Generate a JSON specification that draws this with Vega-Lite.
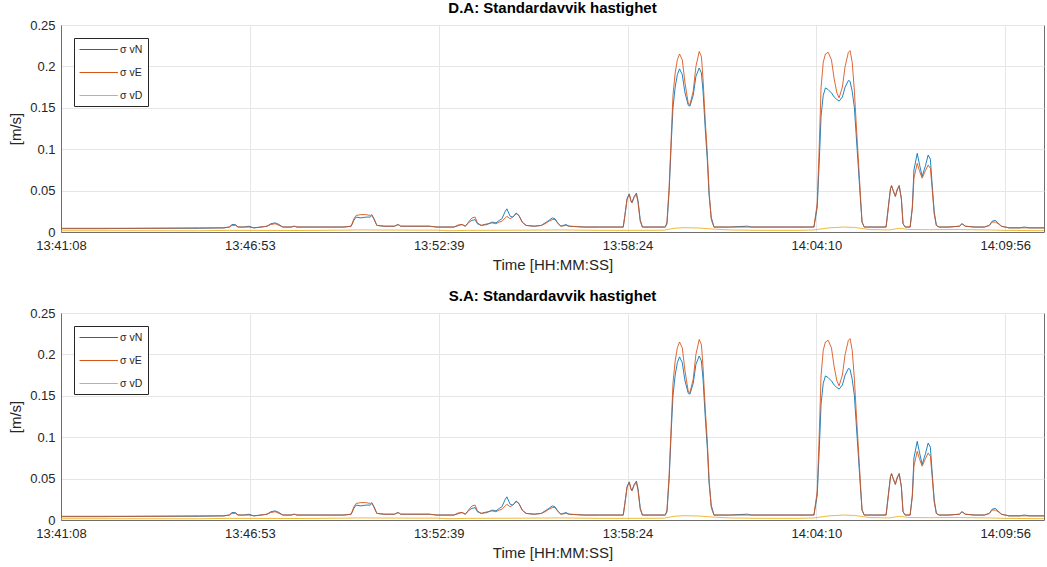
{
  "$schema": "https://vega.github.io/schema/vega-lite/v6.json",
  "background": "white",
  "padding": {"left": 8, "top": 0, "right": 2, "bottom": 2},
  "datasets": {
    "sigma": [
      {"t": 0, "N": 0.004, "E": 0.0045},
      {"t": 70, "N": 0.004, "E": 0.0045},
      {"t": 161, "N": 0.0045, "E": 0.0045},
      {"t": 253, "N": 0.0045, "E": 0.005},
      {"t": 298, "N": 0.005, "E": 0.005},
      {"t": 308, "N": 0.006, "E": 0.006},
      {"t": 313, "N": 0.009, "E": 0.008},
      {"t": 319, "N": 0.009, "E": 0.008},
      {"t": 324, "N": 0.006, "E": 0.006},
      {"t": 335, "N": 0.006, "E": 0.006},
      {"t": 344, "N": 0.007, "E": 0.006},
      {"t": 353, "N": 0.005, "E": 0.005},
      {"t": 366, "N": 0.006, "E": 0.006},
      {"t": 377, "N": 0.007, "E": 0.007},
      {"t": 384, "N": 0.010, "E": 0.009},
      {"t": 392, "N": 0.011, "E": 0.010},
      {"t": 399, "N": 0.009, "E": 0.008},
      {"t": 406, "N": 0.006, "E": 0.006},
      {"t": 421, "N": 0.006, "E": 0.006},
      {"t": 427, "N": 0.007, "E": 0.007},
      {"t": 432, "N": 0.006, "E": 0.006},
      {"t": 454, "N": 0.006, "E": 0.006},
      {"t": 491, "N": 0.006, "E": 0.006},
      {"t": 518, "N": 0.006, "E": 0.006},
      {"t": 531, "N": 0.007, "E": 0.007},
      {"t": 536, "N": 0.014, "E": 0.016},
      {"t": 540, "N": 0.018, "E": 0.020},
      {"t": 549, "N": 0.017, "E": 0.021},
      {"t": 558, "N": 0.018, "E": 0.021},
      {"t": 566, "N": 0.018, "E": 0.020},
      {"t": 569, "N": 0.020, "E": 0.021},
      {"t": 573, "N": 0.016, "E": 0.015},
      {"t": 578, "N": 0.008, "E": 0.008},
      {"t": 591, "N": 0.007, "E": 0.007},
      {"t": 610, "N": 0.007, "E": 0.007},
      {"t": 617, "N": 0.009, "E": 0.009},
      {"t": 622, "N": 0.007, "E": 0.007},
      {"t": 646, "N": 0.007, "E": 0.007},
      {"t": 674, "N": 0.007, "E": 0.007},
      {"t": 688, "N": 0.006, "E": 0.006},
      {"t": 701, "N": 0.006, "E": 0.006},
      {"t": 719, "N": 0.006, "E": 0.006},
      {"t": 729, "N": 0.008, "E": 0.009},
      {"t": 734, "N": 0.009, "E": 0.009},
      {"t": 740, "N": 0.007, "E": 0.007},
      {"t": 747, "N": 0.012, "E": 0.013},
      {"t": 752, "N": 0.014, "E": 0.017},
      {"t": 758, "N": 0.015, "E": 0.018},
      {"t": 762, "N": 0.010, "E": 0.011},
      {"t": 769, "N": 0.008, "E": 0.008},
      {"t": 780, "N": 0.009, "E": 0.010},
      {"t": 789, "N": 0.012, "E": 0.011},
      {"t": 796, "N": 0.011, "E": 0.010},
      {"t": 802, "N": 0.014, "E": 0.012},
      {"t": 807, "N": 0.016, "E": 0.013},
      {"t": 813, "N": 0.025, "E": 0.017},
      {"t": 816, "N": 0.028, "E": 0.019},
      {"t": 822, "N": 0.019, "E": 0.016},
      {"t": 827, "N": 0.018, "E": 0.018},
      {"t": 833, "N": 0.023, "E": 0.022},
      {"t": 838, "N": 0.020, "E": 0.020},
      {"t": 844, "N": 0.012, "E": 0.012},
      {"t": 851, "N": 0.008, "E": 0.008},
      {"t": 866, "N": 0.007, "E": 0.007},
      {"t": 879, "N": 0.008, "E": 0.008},
      {"t": 886, "N": 0.011, "E": 0.010},
      {"t": 893, "N": 0.014, "E": 0.013},
      {"t": 899, "N": 0.017, "E": 0.015},
      {"t": 904, "N": 0.016, "E": 0.015},
      {"t": 910, "N": 0.010, "E": 0.010},
      {"t": 915, "N": 0.007, "E": 0.007},
      {"t": 924, "N": 0.009, "E": 0.008},
      {"t": 930, "N": 0.007, "E": 0.007},
      {"t": 957, "N": 0.006, "E": 0.006},
      {"t": 985, "N": 0.006, "E": 0.006},
      {"t": 1012, "N": 0.006, "E": 0.006},
      {"t": 1029, "N": 0.006, "E": 0.006},
      {"t": 1032, "N": 0.020, "E": 0.020},
      {"t": 1036, "N": 0.040, "E": 0.040},
      {"t": 1040, "N": 0.046, "E": 0.046},
      {"t": 1043, "N": 0.038, "E": 0.037},
      {"t": 1045, "N": 0.036, "E": 0.035},
      {"t": 1049, "N": 0.043, "E": 0.042},
      {"t": 1053, "N": 0.047, "E": 0.045},
      {"t": 1056, "N": 0.038, "E": 0.036},
      {"t": 1060, "N": 0.015, "E": 0.013},
      {"t": 1064, "N": 0.006, "E": 0.006},
      {"t": 1085, "N": 0.006, "E": 0.006},
      {"t": 1106, "N": 0.006, "E": 0.006},
      {"t": 1109, "N": 0.010, "E": 0.012},
      {"t": 1113, "N": 0.050, "E": 0.055},
      {"t": 1117, "N": 0.110, "E": 0.118},
      {"t": 1120, "N": 0.150, "E": 0.165},
      {"t": 1124, "N": 0.175, "E": 0.192},
      {"t": 1128, "N": 0.190, "E": 0.208},
      {"t": 1132, "N": 0.197, "E": 0.215},
      {"t": 1137, "N": 0.190, "E": 0.208},
      {"t": 1142, "N": 0.168, "E": 0.180},
      {"t": 1148, "N": 0.153, "E": 0.155},
      {"t": 1151, "N": 0.152, "E": 0.154},
      {"t": 1157, "N": 0.165, "E": 0.170},
      {"t": 1162, "N": 0.188, "E": 0.200},
      {"t": 1168, "N": 0.198, "E": 0.218},
      {"t": 1172, "N": 0.192, "E": 0.212},
      {"t": 1175, "N": 0.170, "E": 0.185},
      {"t": 1179, "N": 0.125, "E": 0.135},
      {"t": 1183, "N": 0.085, "E": 0.093},
      {"t": 1186, "N": 0.045, "E": 0.050},
      {"t": 1190, "N": 0.018, "E": 0.015},
      {"t": 1195, "N": 0.006, "E": 0.006},
      {"t": 1223, "N": 0.006, "E": 0.006},
      {"t": 1256, "N": 0.007, "E": 0.006},
      {"t": 1263, "N": 0.006, "E": 0.006},
      {"t": 1296, "N": 0.006, "E": 0.006},
      {"t": 1333, "N": 0.006, "E": 0.006},
      {"t": 1369, "N": 0.006, "E": 0.006},
      {"t": 1378, "N": 0.006, "E": 0.006},
      {"t": 1384, "N": 0.030, "E": 0.035},
      {"t": 1388, "N": 0.090, "E": 0.110},
      {"t": 1391, "N": 0.140, "E": 0.175},
      {"t": 1395, "N": 0.165, "E": 0.205},
      {"t": 1399, "N": 0.174, "E": 0.215},
      {"t": 1404, "N": 0.172, "E": 0.217},
      {"t": 1410, "N": 0.168, "E": 0.208},
      {"t": 1415, "N": 0.163, "E": 0.185},
      {"t": 1420, "N": 0.160, "E": 0.168},
      {"t": 1424, "N": 0.158, "E": 0.162},
      {"t": 1430, "N": 0.163, "E": 0.175},
      {"t": 1435, "N": 0.175, "E": 0.200},
      {"t": 1441, "N": 0.183, "E": 0.217},
      {"t": 1444, "N": 0.182, "E": 0.219},
      {"t": 1448, "N": 0.170, "E": 0.205},
      {"t": 1452, "N": 0.150, "E": 0.170},
      {"t": 1455, "N": 0.120, "E": 0.135},
      {"t": 1459, "N": 0.080, "E": 0.090},
      {"t": 1463, "N": 0.040, "E": 0.045},
      {"t": 1466, "N": 0.012, "E": 0.012},
      {"t": 1470, "N": 0.006, "E": 0.006},
      {"t": 1488, "N": 0.006, "E": 0.006},
      {"t": 1510, "N": 0.006, "E": 0.006},
      {"t": 1514, "N": 0.030, "E": 0.028},
      {"t": 1518, "N": 0.052, "E": 0.052},
      {"t": 1520, "N": 0.056, "E": 0.056},
      {"t": 1523, "N": 0.050, "E": 0.050},
      {"t": 1527, "N": 0.043, "E": 0.043},
      {"t": 1530, "N": 0.050, "E": 0.051},
      {"t": 1534, "N": 0.056, "E": 0.056},
      {"t": 1538, "N": 0.040, "E": 0.040},
      {"t": 1541, "N": 0.010, "E": 0.010},
      {"t": 1545, "N": 0.006, "E": 0.006},
      {"t": 1554, "N": 0.006, "E": 0.006},
      {"t": 1558, "N": 0.030, "E": 0.028},
      {"t": 1561, "N": 0.075, "E": 0.065},
      {"t": 1567, "N": 0.095, "E": 0.083},
      {"t": 1571, "N": 0.082, "E": 0.074},
      {"t": 1576, "N": 0.067, "E": 0.065},
      {"t": 1582, "N": 0.080, "E": 0.074},
      {"t": 1587, "N": 0.093, "E": 0.081},
      {"t": 1591, "N": 0.088, "E": 0.077},
      {"t": 1594, "N": 0.060, "E": 0.055},
      {"t": 1598, "N": 0.025, "E": 0.022},
      {"t": 1602, "N": 0.008, "E": 0.008},
      {"t": 1607, "N": 0.006, "E": 0.006},
      {"t": 1625, "N": 0.006, "E": 0.006},
      {"t": 1644, "N": 0.007, "E": 0.007},
      {"t": 1649, "N": 0.010, "E": 0.010},
      {"t": 1655, "N": 0.007, "E": 0.007},
      {"t": 1671, "N": 0.006, "E": 0.006},
      {"t": 1690, "N": 0.006, "E": 0.006},
      {"t": 1699, "N": 0.008, "E": 0.008},
      {"t": 1704, "N": 0.013, "E": 0.012},
      {"t": 1710, "N": 0.014, "E": 0.012},
      {"t": 1715, "N": 0.011, "E": 0.010},
      {"t": 1721, "N": 0.007, "E": 0.007},
      {"t": 1728, "N": 0.006, "E": 0.006},
      {"t": 1735, "N": 0.005, "E": 0.005},
      {"t": 1754, "N": 0.005, "E": 0.005},
      {"t": 1763, "N": 0.006, "E": 0.005},
      {"t": 1772, "N": 0.005, "E": 0.005},
      {"t": 1799, "N": 0.005, "E": 0.005},
      {"t": 0, "D": 0.0015},
      {"t": 253, "D": 0.0015},
      {"t": 308, "D": 0.002},
      {"t": 436, "D": 0.0018},
      {"t": 509, "D": 0.0022},
      {"t": 545, "D": 0.0025},
      {"t": 582, "D": 0.0024},
      {"t": 692, "D": 0.0022},
      {"t": 710, "D": 0.0015},
      {"t": 747, "D": 0.002},
      {"t": 838, "D": 0.0022},
      {"t": 912, "D": 0.0025},
      {"t": 985, "D": 0.002},
      {"t": 1058, "D": 0.002},
      {"t": 1104, "D": 0.0022},
      {"t": 1122, "D": 0.0045},
      {"t": 1140, "D": 0.0052},
      {"t": 1168, "D": 0.0048},
      {"t": 1195, "D": 0.0035},
      {"t": 1223, "D": 0.0025},
      {"t": 1278, "D": 0.002},
      {"t": 1351, "D": 0.002},
      {"t": 1378, "D": 0.0025},
      {"t": 1406, "D": 0.005},
      {"t": 1433, "D": 0.006},
      {"t": 1452, "D": 0.0055},
      {"t": 1479, "D": 0.003},
      {"t": 1516, "D": 0.0025},
      {"t": 1534, "D": 0.0045},
      {"t": 1552, "D": 0.003},
      {"t": 1589, "D": 0.0028},
      {"t": 1644, "D": 0.003},
      {"t": 1699, "D": 0.0025},
      {"t": 1728, "D": 0.002},
      {"t": 1799, "D": 0.0015}
    ]
  },
  "config": {
    "font": "Liberation Sans",
    "view": {"stroke": "#6e6e6e", "strokeWidth": 1},
    "axis": {
      "labelFont": "Liberation Sans",
      "labelFontSize": 13,
      "labelColor": "#262626",
      "titleFont": "Liberation Sans",
      "titleFontSize": 15,
      "titleFontWeight": "normal",
      "titleColor": "#262626",
      "gridColor": "#e6e6e6",
      "domainColor": "#6e6e6e",
      "ticks": false,
      "labelFlush": false
    },
    "axisX": {"labelPadding": 7, "titlePadding": 5},
    "axisY": {"labelPadding": 6, "titlePadding": 6},
    "title": {"font": "Liberation Sans", "fontSize": 15, "fontWeight": "bold", "color": "#000000", "offset": 3},
    "legend": {
      "title": null,
      "orient": "top-left",
      "offset": 13,
      "symbolType": "M-1,0L5.4,0",
      "symbolSize": 144,
      "symbolStrokeWidth": 1,
      "symbolOpacity": 1,
      "labelOffset": 28,
      "labelFont": "Liberation Sans",
      "labelFontSize": 10.5,
      "labelColor": "#262626",
      "strokeColor": "#262626",
      "fillColor": "white",
      "padding": 5,
      "rowPadding": 11
    },
    "concat": {"spacing": 15}
  },
  "vconcat": [
    {
      "title": "D.A: Standardavvik hastighet",
      "width": 983,
      "height": 207,
      "data": {"name": "sigma"},
      "transform": [
        {"fold": ["N", "E", "D"], "as": ["s", "v"]},
        {"filter": "isValid(datum.v)"}
      ],
      "mark": {"type": "line", "strokeWidth": 1, "opacity": 0.88},
      "encoding": {
        "x": {
          "field": "t", "type": "quantitative",
          "scale": {"domain": [0, 1799], "nice": false, "zero": false},
          "axis": {
            "title": "Time [HH:MM:SS]",
            "values": [0, 345.6, 691.2, 1036.8, 1382.4, 1728],
            "labelExpr": "utcFormat(datum.value * 1000 + 49268000, '%H:%M:%S')"
          }
        },
        "y": {
          "field": "v", "type": "quantitative",
          "scale": {"domain": [0, 0.25], "nice": false},
          "axis": {"title": "[m/s]", "values": [0, 0.05, 0.1, 0.15, 0.2, 0.25], "format": "~g"}
        },
        "color": {
          "field": "s", "type": "nominal",
          "scale": {"domain": ["N", "E", "D"], "range": ["#0072BD", "#D95319", "#EDB120"]},
          "legend": {"labelExpr": "'σ v' + datum.label"}
        },
        "order": {"field": "t", "type": "quantitative"}
      }
    },
    {
      "title": "S.A: Standardavvik hastighet",
      "width": 983,
      "height": 207,
      "data": {"name": "sigma"},
      "transform": [
        {"fold": ["N", "E", "D"], "as": ["s", "v"]},
        {"filter": "isValid(datum.v)"}
      ],
      "mark": {"type": "line", "strokeWidth": 1, "opacity": 0.88},
      "encoding": {
        "x": {
          "field": "t", "type": "quantitative",
          "scale": {"domain": [0, 1799], "nice": false, "zero": false},
          "axis": {
            "title": "Time [HH:MM:SS]",
            "values": [0, 345.6, 691.2, 1036.8, 1382.4, 1728],
            "labelExpr": "utcFormat(datum.value * 1000 + 49268000, '%H:%M:%S')"
          }
        },
        "y": {
          "field": "v", "type": "quantitative",
          "scale": {"domain": [0, 0.25], "nice": false},
          "axis": {"title": "[m/s]", "values": [0, 0.05, 0.1, 0.15, 0.2, 0.25], "format": "~g"}
        },
        "color": {
          "field": "s", "type": "nominal",
          "scale": {"domain": ["N", "E", "D"], "range": ["#0072BD", "#D95319", "#EDB120"]},
          "legend": {"labelExpr": "'σ v' + datum.label"}
        },
        "order": {"field": "t", "type": "quantitative"}
      }
    }
  ],
  "resolve": {"legend": {"color": "independent"}}
}
